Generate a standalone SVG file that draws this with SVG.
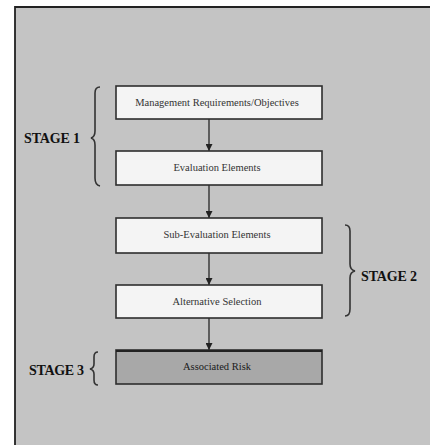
<svg xmlns="http://www.w3.org/2000/svg" width="430" height="445" viewBox="0 0 430 445">
<defs>
<style>
.box{fill:#f4f4f4;stroke:#2e2e2e;stroke-width:1.6}
.risk{fill:#a8a8a8;stroke:#2e2e2e;stroke-width:1.6}
.lbl{font-family:"Liberation Serif","Times New Roman",serif;font-size:10.5px;fill:#333;text-anchor:middle}
.stage{font-family:"Liberation Serif","Times New Roman",serif;font-size:14px;font-weight:bold;fill:#111}
.brace{fill:none;stroke:#333;stroke-width:1.6}
.conn{stroke:#333;stroke-width:1.4;fill:none}
</style>
<marker id="ah" viewBox="0 0 10 10" refX="10" refY="5" markerWidth="7" markerHeight="7" markerUnits="userSpaceOnUse" orient="auto">
<path d="M0,0 L10,5 L0,10 z" fill="#222"/>
</marker>
</defs>
<rect x="0" y="0" width="430" height="445" fill="#ffffff"/>
<rect x="15" y="7" width="420" height="440" fill="#c4c4c4"/>
<path d="M15,445 L15,7 L430,7" fill="none" stroke="#222" stroke-width="1.8"/>

<g id="connectors">
<line class="conn" x1="209" y1="119" x2="209" y2="151" marker-end="url(#ah)"/>
<line class="conn" x1="209" y1="185" x2="209" y2="218" marker-end="url(#ah)"/>
<line class="conn" x1="209" y1="253" x2="209" y2="285" marker-end="url(#ah)"/>
<line class="conn" x1="209" y1="318" x2="209" y2="350" marker-end="url(#ah)"/>
</g>

<g id="n1">
<rect class="box" x="116" y="86" width="206" height="33"/>
<text class="lbl" x="217" y="106">Management Requirements/Objectives</text>
</g>
<g id="n2">
<rect class="box" x="116" y="151" width="206" height="34"/>
<text class="lbl" x="217" y="171">Evaluation Elements</text>
</g>
<g id="n3">
<rect class="box" x="116" y="218" width="206" height="35"/>
<text class="lbl" x="217" y="238">Sub-Evaluation Elements</text>
</g>
<g id="n4">
<rect class="box" x="116" y="285" width="206" height="33"/>
<text class="lbl" x="217" y="305">Alternative Selection</text>
</g>
<g id="n5">
<rect class="risk" x="116" y="350" width="206" height="34"/>
<line x1="116" y1="351" x2="322" y2="351" stroke="#222" stroke-width="2.2"/>
<text class="lbl" x="217" y="370" style="fill:#1a1a1a">Associated Risk</text>
</g>

<g id="stage1">
<path class="brace" d="M100,87 Q95,87 95,93 L95,131 Q95,137 91,138 Q95,139 95,145 L95,178 Q95,185 100,186"/>
<text class="stage" x="24" y="143" textLength="56">STAGE 1</text>
</g>
<g id="stage2">
<path class="brace" d="M345,225 Q350,225 350,231 L350,264 Q350,270 355,271 Q350,272 350,278 L350,309 Q350,316 345,316"/>
<text class="stage" x="361" y="281" textLength="56">STAGE 2</text>
</g>
<g id="stage3">
<path class="brace" d="M98,352 Q94,352 94,357 L94,364 Q94,368 90,369 Q94,370 94,374 L94,380 Q94,385 98,385"/>
<text class="stage" x="29" y="375" textLength="55">STAGE 3</text>
</g>
</svg>
